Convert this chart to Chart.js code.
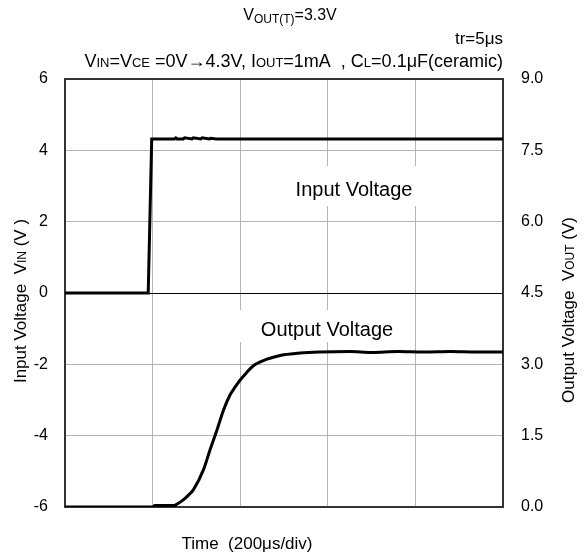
<!DOCTYPE html>
<html>
<head>
<meta charset="utf-8">
<script src="https://cdn.jsdelivr.net/npm/chart.js@4"></script>
<style>
  body { margin: 0; background: #fff; }
  #wrap { width: 585px; height: 557px; position: relative; }
</style>
</head>
<body>
<div id="wrap"><canvas id="riseChart"></canvas></div>
<script>
// time in microseconds, 200us per division
const inTime = [0, 190, 198, 250, 253, 256, 270, 273, 290, 293, 310, 313, 330, 333, 345, 1000]
const inVolt = [0, 0, 4.32, 4.32, 4.35, 4.32, 4.32, 4.35, 4.32, 4.35, 4.32, 4.35, 4.32, 4.34, 4.32, 4.32]

// output voltage read against the right axis (V)
const outTime = [0, 200, 205, 248, 259, 270, 282, 293, 316, 331, 347, 362, 377, 389, 400, 415, 430, 446, 461, 480, 499, 537, 583, 650, 700, 760, 820, 880, 940, 1000]
const outVolt = [0, 0, 0.03, 0.03, 0.08, 0.15, 0.25, 0.36, 0.78, 1.2, 1.62, 2.04, 2.36, 2.53, 2.67, 2.83, 2.97, 3.05, 3.11, 3.16, 3.2, 3.24, 3.26, 3.27, 3.25, 3.27, 3.26, 3.27, 3.26, 3.26]

const leftTicks = [-6, -4, -2, 0, 2, 4, 6]
const rightTicks = [0, 1.5, 3, 4.5, 6, 7.5, 9]

const FONT = "'Liberation Sans', Arial, sans-serif"

function toPoints(xs, ys) {
  return xs.map(function(x, i) { return {x: x, y: ys[i]} })
}

// draw a run of [text, small] pieces; small pieces are smaller and may be lowered
function runWidth(ctx, parts, size) {
  let w = 0
  parts.forEach(function(p) {
    ctx.font = (p[1] ? Math.round(size * 0.72) : size) + "px " + FONT
    w += ctx.measureText(p[0]).width
  })
  return w
}
function drawRun(ctx, parts, x, y, size, drop) {
  parts.forEach(function(p) {
    ctx.font = (p[1] ? Math.round(size * 0.72) : size) + "px " + FONT
    ctx.fillText(p[0], x, p[1] ? y + drop : y)
    x += ctx.measureText(p[0]).width
  })
}

const labelPlugin = {
  id: 'labels',
  beforeDatasetsDraw(chart) {
    const ctx = chart.ctx
    ctx.save()
    ctx.fillStyle = '#fff'
    ctx.fillRect(284, 166, 140, 40)
    ctx.fillRect(238, 310, 172, 32)
    ctx.fillStyle = '#000'
    ctx.font = "20px " + FONT
    ctx.textBaseline = 'alphabetic'
    ctx.textAlign = 'center'
    ctx.fillText('Input Voltage', 354, 196)
    ctx.fillText('Output Voltage', 327, 336)
    // frame
    const a = chart.chartArea
    ctx.strokeStyle = '#333'
    ctx.lineWidth = 2
    ctx.strokeRect(a.left, a.top, a.right - a.left, a.bottom - a.top)
    ctx.restore()
  },
  afterDraw(chart) {
    const ctx = chart.ctx
    ctx.save()
    ctx.fillStyle = '#000'
    ctx.textAlign = 'left'
    ctx.textBaseline = 'alphabetic'
    let parts = [['V', 0], ['OUT(T)', 1], ['=3.3V', 0]]
    let w = runWidth(ctx, parts, 16)
    drawRun(ctx, parts, 290 - w / 2, 20, 16, 3)
    parts = [['tr=5μs', 0]]
    w = runWidth(ctx, parts, 17)
    drawRun(ctx, parts, 503 - w, 44, 17, 0)
    parts = [['V', 0], ['IN', 1], ['=V', 0], ['CE', 1], [' =0V→4.3V, I', 0], ['OUT', 1], ['=1mA  , C', 0], ['L', 1], ['=0.1μF(ceramic)', 0]]
    w = runWidth(ctx, parts, 18)
    drawRun(ctx, parts, 503 - w, 67, 18, 0)
    parts = [['Time  (200μs/div)', 0]]
    w = runWidth(ctx, parts, 17)
    drawRun(ctx, parts, 247 - w / 2, 549, 17, 0)

    // axis titles, rotated
    parts = [['Input Voltage  V', 0], ['IN', 1], [' (V )', 0]]
    w = runWidth(ctx, parts, 17)
    ctx.translate(26, 301)
    ctx.rotate(-Math.PI / 2)
    drawRun(ctx, parts, -w / 2, 0, 17, 0)
    ctx.setTransform(1, 0, 0, 1, 0, 0)
    parts = [['Output Voltage  V', 0], ['OUT', 1], [' (V)', 0]]
    w = runWidth(ctx, parts, 17)
    ctx.translate(574, 310)
    ctx.rotate(-Math.PI / 2)
    drawRun(ctx, parts, -w / 2, 0, 17, 0)
    ctx.restore()
  }
}

new Chart('riseChart', {
  type: 'scatter',
  data: {
    datasets: [
      {
        data: toPoints(inTime, inVolt),
        yAxisID: 'y',
        showLine: true,
        borderColor: '#000',
        borderWidth: 3,
        pointRadius: 0
      },
      {
        data: toPoints(outTime, outVolt),
        yAxisID: 'y1',
        showLine: true,
        borderColor: '#000',
        borderWidth: 3,
        pointRadius: 0,
        cubicInterpolationMode: 'monotone'
      }
    ]
  },
  options: {
    responsive: true,
    maintainAspectRatio: false,
    animation: false,
    layout: { padding: { top: 79 } },
    plugins: { legend: { display: false }, tooltip: { enabled: false } },
    scales: {
      x: {
        type: 'linear', min: 0, max: 1000,
        afterFit: function(s) { s.height = 50 },
        ticks: { stepSize: 200, display: false },
        grid: { color: '#b4b4b4', lineWidth: 1, drawTicks: false },
        border: { display: false }
      },
      y: {
        position: 'left', min: -6, max: 6,
        afterFit: function(s) { s.width = 65 },
        afterBuildTicks: function(s) { s.ticks = leftTicks.map(function(v) { return {value: v} }) },
        ticks: { padding: 17, color: '#000', font: { family: FONT, size: 16 } },
        grid: {
          drawTicks: false,
          color: function(c) { return c.tick && c.tick.value === 0 ? '#000' : '#b4b4b4' }
        },
        border: { display: false }
      },
      y1: {
        position: 'right', min: 0, max: 9,
        afterFit: function(s) { s.width = 82 },
        afterBuildTicks: function(s) { s.ticks = rightTicks.map(function(v) { return {value: v} }) },
        ticks: {
          padding: 18, color: '#000', font: { family: FONT, size: 16 },
          callback: function(v) { return v.toFixed(1) }
        },
        grid: { display: false, drawTicks: false },
        border: { display: false }
      }
    }
  },
  plugins: [labelPlugin]
})
</script>
</body>
</html>
